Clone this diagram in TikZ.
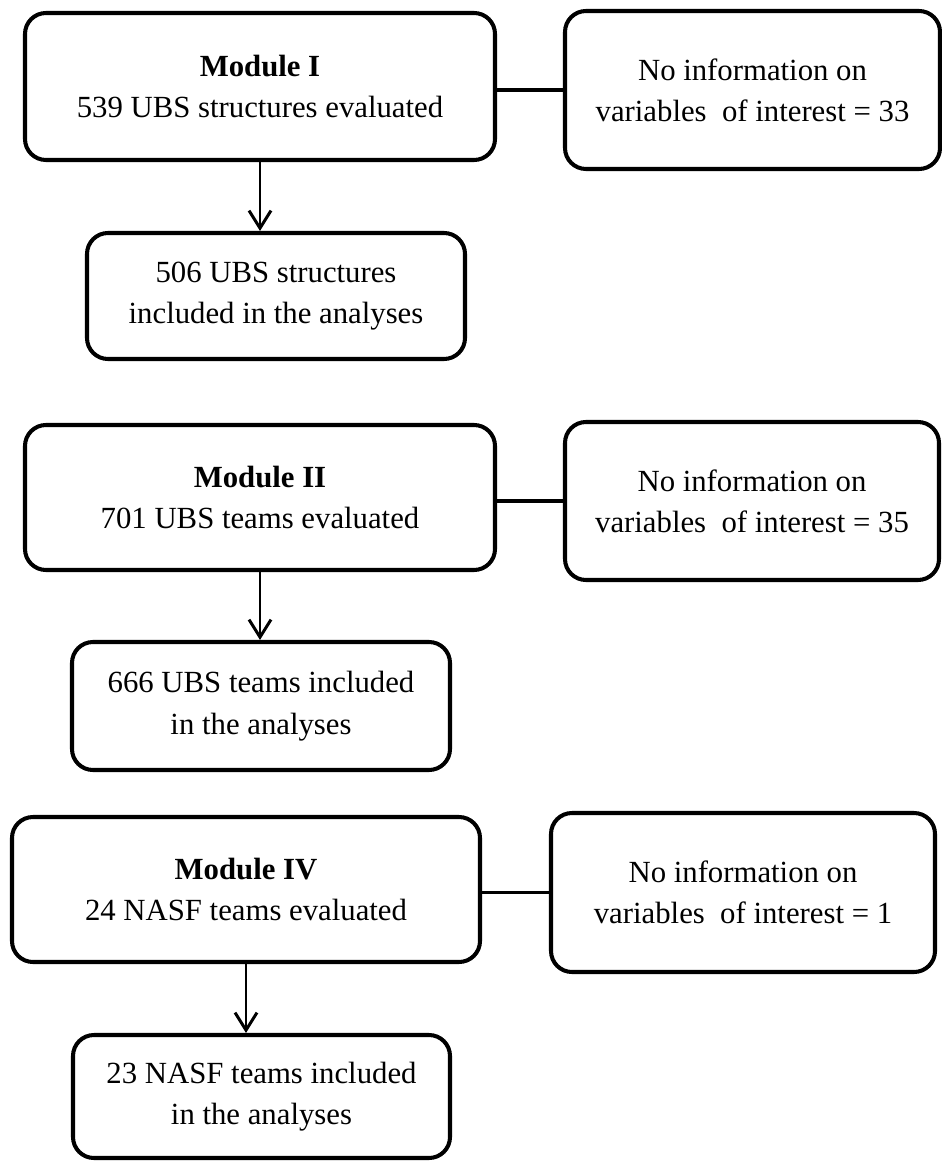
\documentclass[tikz,border=0pt]{standalone}
\usepackage{fontspec}
\setmainfont{Liberation Serif}
\usetikzlibrary{arrows.meta}

\begin{document}
\begin{tikzpicture}[
        box/.style={rectangle, draw, line width=2.3pt, rounded corners=0.42cm, inner sep=0pt, align=center, font=\fontsize{17.5}{23.5}\selectfont},
        link/.style={line width=1.8pt},
        flow/.style={line width=1.7pt, -{Straight Barb[length=10pt, width=12.5pt, line width=1.7pt]}}
    ]
        \useasboundingbox (0,0) rectangle (18.82,-23.22);

        % === Module I ===
        \node[box, minimum width=9.40cm, minimum height=2.94cm] (M1) at (5.20,-1.73) {\textbf{Module I}\\539 UBS structures evaluated};
        \node[box, minimum width=7.50cm, minimum height=3.16cm] (R1) at (15.05,-1.80) {No information on\\variables\ \ of interest = 33};
        \node[box, minimum width=7.56cm, minimum height=2.52cm] (N1) at (5.52,-5.92) {506 UBS structures\\included in the analyses};
        \draw[link] (R1.west -| M1.east) -- (R1.west);
        \draw[flow] (M1.south) -- (M1.south |- N1.north);

        % === Module II ===
        \node[box, minimum width=9.40cm, minimum height=2.90cm] (M2) at (5.20,-9.95) {\textbf{Module II}\\701 UBS teams evaluated};
        \node[box, minimum width=7.48cm, minimum height=3.16cm] (R2) at (15.04,-10.02) {No information on\\variables\ \ of interest = 35};
        \node[box, minimum width=7.56cm, minimum height=2.56cm] (N2) at (5.22,-14.12) {666 UBS teams included\\in the analyses};
        \draw[link] (R2.west -| M2.east) -- (R2.west);
        \draw[flow] (M2.south) -- (M2.south |- N2.north);

        % === Module IV ===
        \node[box, minimum width=9.36cm, minimum height=2.90cm] (M4) at (4.92,-17.79) {\textbf{Module IV}\\24 NASF teams evaluated};
        \node[box, minimum width=7.68cm, minimum height=3.18cm] (R4) at (14.86,-17.85) {No information on\\variables\ \ of interest = 1};
        \node[box, minimum width=7.54cm, minimum height=2.46cm] (N4) at (5.23,-21.93) {23 NASF teams included\\in the analyses};
        \draw[link] (R4.west -| M4.east) -- (R4.west);
        \draw[flow] (M4.south) -- (M4.south |- N4.north);
    \end{tikzpicture}
\end{document}
